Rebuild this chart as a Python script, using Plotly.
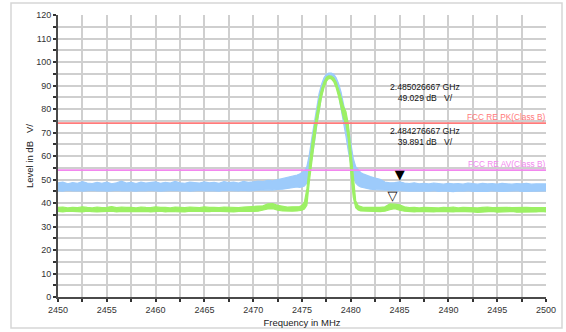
import numpy as np
import plotly.graph_objects as go

# Frequency sampling (MHz): coarse on the noise floor, finer across the carrier
freq_left = np.arange(2450.0, 2474.51, 0.5)      # 50 points
freq_mid = np.arange(2474.75, 2481.26, 0.25)     # 27 points
freq_right = np.arange(2481.5, 2500.01, 0.5)     # 38 points
freq = np.concatenate([freq_left, freq_mid, freq_right])

# Peak detector trace (upper / lower envelope), dB
pk_hi = [
    48.6, 48.9, 48.2, 48.7, 48.4, 49.1, 48.5, 48.3, 48.8, 48.4,
    48.9, 48.2, 48.6, 49.3, 48.5, 48.8, 48.3, 48.9, 48.5, 48.7,
    49.0, 48.4, 48.8, 48.5, 49.2, 48.6, 48.4, 48.9, 48.7, 48.5,
    49.0, 48.6, 48.8, 48.4, 49.1, 48.7, 48.9, 48.5, 49.2, 48.8,
    49.0, 49.3, 49.1, 49.6, 49.4, 49.9, 50.2, 50.6, 51.2, 51.9,
    52.3, 52.9, 53.6, 55.5, 60.5, 67.5, 74.5, 81.0, 86.5, 90.5,
    93.3, 94.8, 95.3, 95.3, 94.8, 93.3, 90.8, 87.2, 82.5, 77.5,
    72.0, 65.5, 59.0, 55.5, 54.0, 53.0, 52.4,
    51.9, 51.2, 50.6, 50.1, 48.9, 48.6, 48.7, 49.0, 48.5, 48.3,
    48.6, 48.2, 48.4, 48.1, 48.5, 48.2, 48.0, 48.4, 48.1, 48.3,
    48.0, 48.5, 48.2, 48.0, 48.4, 48.1, 48.3, 48.0, 48.4, 48.2,
    48.0, 48.3, 48.1, 48.4, 48.0, 48.2, 48.3, 48.1,
]
pk_lo = [
    45.2, 45.0, 45.4, 45.1, 45.3, 45.0, 45.2, 45.4, 45.1, 45.3,
    45.0, 45.2, 45.4, 45.1, 45.3, 45.2, 45.0, 45.3, 45.1, 45.4,
    45.2, 45.0, 45.3, 45.2, 45.4, 45.1, 45.3, 45.0, 45.2, 45.4,
    45.1, 45.3, 45.2, 45.0, 45.4, 45.2, 45.3, 45.1, 45.4, 45.2,
    45.3, 45.5, 45.4, 45.6, 45.5, 45.8, 45.9, 46.1, 46.4, 46.8,
    46.6, 46.8, 47.2, 48.5, 52.0, 58.0, 65.0, 72.5, 79.5, 85.5,
    90.0, 93.0, 94.3, 94.5, 93.3, 90.5, 86.0, 80.5, 74.5, 68.5,
    62.0, 56.0, 51.0, 48.5, 47.4, 46.8, 46.4,
    46.2, 45.9, 45.7, 45.5, 45.3, 45.1, 45.2, 44.9, 45.1, 45.0,
    45.2, 44.9, 45.1, 45.0, 45.2, 44.9, 45.1, 45.0, 44.8, 45.1,
    45.0, 45.2, 44.9, 45.0, 45.1, 44.9, 45.2, 45.0, 44.9, 45.1,
    45.0, 45.2, 44.9, 45.0, 45.1, 44.9, 45.0, 45.1,
]

# Average detector trace (upper / lower envelope), dB
av_hi = [
    38.1, 38.3, 37.9, 38.2, 38.0, 38.4, 38.1, 37.9, 38.3, 38.0,
    38.2, 38.5, 38.0, 38.3, 38.1, 38.2, 37.9, 38.3, 38.1, 38.0,
    38.4, 38.1, 38.2, 37.9, 38.3, 38.1, 38.0, 38.3, 38.2, 38.0,
    38.4, 38.1, 38.2, 38.0, 38.3, 38.1, 38.2, 38.0, 38.3, 38.4,
    38.3, 38.4, 38.8, 39.6, 39.7, 39.0, 38.5, 38.3, 38.4, 38.5,
    38.5, 39.0, 40.5, 46.0, 57.0, 65.0, 72.0, 78.5, 84.0, 88.5,
    91.5, 93.5, 94.1, 94.0, 93.2, 91.5, 88.5, 85.0, 81.0, 79.0,
    73.5, 61.5, 50.0, 41.0, 38.9, 38.4, 38.2,
    38.1, 38.0, 38.2, 38.1, 38.4, 39.6, 39.5, 39.2, 38.4, 38.0,
    38.2, 37.9, 38.1, 38.0, 38.2, 37.9, 38.1, 38.0, 38.3, 37.9,
    38.1, 38.0, 38.2, 37.9, 38.1, 38.3, 38.0, 38.1, 37.9, 38.2,
    38.0, 38.1, 37.9, 38.2, 38.0, 38.1, 37.9, 38.0,
]
av_lo = [
    36.4, 36.2, 36.5, 36.3, 36.4, 36.2, 36.5, 36.3, 36.2, 36.4,
    36.3, 36.5, 36.2, 36.4, 36.3, 36.2, 36.5, 36.3, 36.4, 36.2,
    36.3, 36.5, 36.2, 36.4, 36.3, 36.4, 36.2, 36.5, 36.3, 36.2,
    36.4, 36.3, 36.5, 36.2, 36.4, 36.3, 36.2, 36.4, 36.3, 36.5,
    36.4, 36.5, 36.9, 37.5, 37.6, 37.0, 36.6, 36.4, 36.5, 36.6,
    36.6, 36.9, 37.4, 39.0, 49.0, 57.5, 65.5, 73.0, 79.5, 85.0,
    89.0, 91.8, 93.0, 92.8, 91.6, 89.0, 85.3, 81.0, 76.0, 73.5,
    67.0, 53.0, 42.5, 38.0, 37.0, 36.6, 36.4,
    36.5, 36.3, 36.4, 36.3, 36.5, 37.2, 37.6, 37.0, 36.5, 36.3,
    36.2, 36.4, 36.1, 36.3, 36.2, 36.4, 36.1, 36.3, 36.2, 36.4,
    36.1, 36.3, 36.2, 36.0, 36.3, 36.2, 36.4, 36.1, 36.3, 36.2,
    36.4, 36.1, 36.2, 36.3, 36.1, 36.2, 36.4, 36.2,
]

for name, arr in [("pk_hi", pk_hi), ("pk_lo", pk_lo), ("av_hi", av_hi), ("av_lo", av_lo)]:
    assert len(arr) == len(freq), (name, len(arr), len(freq))

# Limit lines
limit_names = ["FCC RE PK(Class B)", "FCC RE AV(Class B)"]
limit_levels = [74.0, 54.0]
limit_colors = ["#ff7a7a", "#f288ee"]

# Markers: frequency (GHz) and level (dB)
mk_freq_ghz = [2.485026667, 2.484276667]
mk_level = [49.029, 39.891]
mk_glyph = ["\u25BC", "\u25BD"]
mk_text_x = [2487.6, 2487.6]
mk_text_y = [87.2, 68.5]

unit = "dB\u00a0\u00a0\u00a0V/"
FONT = "Liberation Sans, Arial, sans-serif"

fig = go.Figure()

pk_color = "#9dcbfb"
av_color = "#9cf064"

fig.add_trace(go.Scatter(
    x=np.concatenate([freq, freq[::-1]]),
    y=pk_hi + pk_lo[::-1],
    fill="toself", fillcolor=pk_color, mode="lines",
    line=dict(color=pk_color, width=1.2), hoverinfo="skip",
))
fig.add_trace(go.Scatter(
    x=np.concatenate([freq, freq[::-1]]),
    y=av_hi + av_lo[::-1],
    fill="toself", fillcolor=av_color, mode="lines",
    line=dict(color=av_color, width=1.2), hoverinfo="skip",
))

for name, lvl, col in zip(limit_names, limit_levels, limit_colors):
    fig.add_trace(go.Scatter(
        x=[2450, 2500], y=[lvl, lvl], mode="lines",
        line=dict(color=col, width=1.6), hoverinfo="skip",
    ))
    fig.add_annotation(
        x=2500, y=lvl, xref="x", yref="y", text=name, showarrow=False,
        xanchor="right", yanchor="bottom", yshift=-1, xshift=2,
        font=dict(family=FONT, size=8.3, color=col),
    )

for fg, lv, g in zip(mk_freq_ghz, mk_level, mk_glyph):
    fig.add_trace(go.Scatter(
        x=[fg * 1000], y=[lv], mode="text", text=[g],
        textposition="top center",
        textfont=dict(family="DejaVu Sans", size=13, color="black"),
        hoverinfo="skip",
    ))

for fg, lv, tx, ty in zip(mk_freq_ghz, mk_level, mk_text_x, mk_text_y):
    fig.add_annotation(
        x=tx, y=ty, xref="x", yref="y", showarrow=False,
        text=f"{fg:.9f} GHz<br>{lv:.3f} {unit}",
        xanchor="center", yanchor="middle",
        font=dict(family=FONT, size=8.6, color="#111"),
    )

# Y axis title
fig.add_annotation(
    x=-0.0594, y=0.5, xref="paper", yref="paper", showarrow=False,
    text="Level in dB\u00a0\u00a0\u00a0V/", textangle=-90,
    xanchor="center", yanchor="middle",
    font=dict(family=FONT, size=9.5, color="#222"),
)

# Outer frame
fig.add_shape(type="rect", xref="paper", yref="paper",
              x0=-0.0963, x1=1.0328, y0=-0.1099, y1=1.0426,
              line=dict(color="#d6d6d6", width=1.5), layer="below")

grid_col = "#cfcfcf"
axis_font = dict(family=FONT, size=9, color="#333")

fig.update_layout(
    width=566, height=332,
    margin=dict(l=58, r=20, t=15, b=35),
    paper_bgcolor="white", plot_bgcolor="white",
    showlegend=False,
    xaxis=dict(
        range=[2450, 2500], dtick=5, tick0=2450,
        showgrid=True, gridcolor=grid_col, gridwidth=1.5,
        showline=True, linecolor="#4a4a4a", linewidth=2,
        ticks="outside", ticklen=3, tickwidth=1.5, tickcolor="#333",
        tickfont=axis_font, zeroline=False,
        minor=dict(dtick=2.5, showgrid=True, gridcolor=grid_col, gridwidth=1.5,
                   ticks="outside", ticklen=3, tickwidth=1.5, tickcolor="#333"),
        title=dict(text="Frequency in MHz", font=dict(family=FONT, size=9.5, color="#222"),
                   standoff=6),
        automargin=False,
    ),
    yaxis=dict(
        range=[0, 120], dtick=10, tick0=0,
        showgrid=True, gridcolor=grid_col, gridwidth=1.5,
        showline=True, linecolor="#4a4a4a", linewidth=2,
        ticks="outside", ticklen=3, tickwidth=1.5, tickcolor="#333",
        tickfont=axis_font, zeroline=False,
        minor=dict(dtick=5, showgrid=True, gridcolor=grid_col, gridwidth=1.5,
                   ticks="outside", ticklen=3, tickwidth=1.5, tickcolor="#333"),
        automargin=False,
    ),
)

fig.write_html("out.html")
